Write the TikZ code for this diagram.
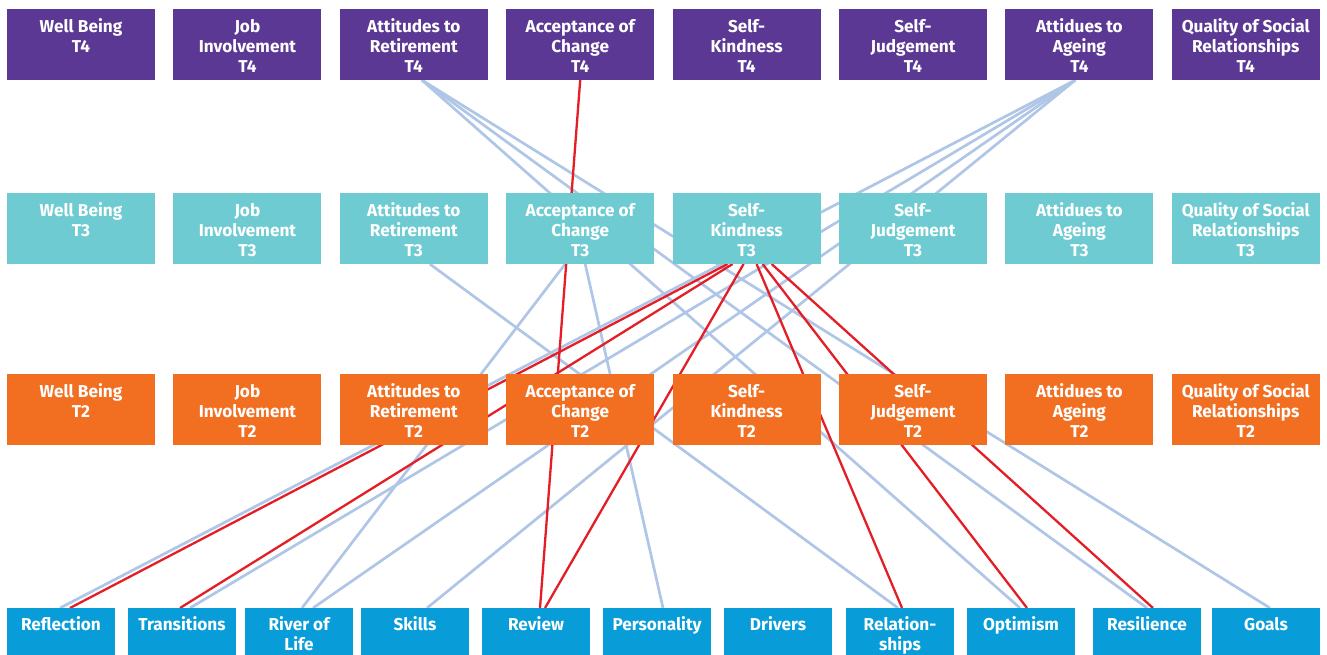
\documentclass[tikz,border=0pt]{standalone}
\usepackage{fontspec}
\setmainfont{Fira Sans}
\usetikzlibrary{positioning,backgrounds}
\definecolor{plum}{HTML}{5B3894}
\definecolor{aqua}{HTML}{6FCBD2}
\definecolor{tang}{HTML}{F26F22}
\definecolor{sky}{HTML}{089DD9}
\definecolor{haze}{HTML}{AFC6E6}
\definecolor{alarm}{HTML}{E31E26}
\newcommand{\tlbl}[1]{\parbox[c][52pt][t]{148pt}{\centering\strut#1}}
\newcommand{\blbl}[1]{\parbox[c][50pt][t]{108pt}{\centering\strut#1}}

\begin{document}
\begin{tikzpicture}[x=1pt,y=1pt,
  node distance=113pt and 18.4pt,
  outcome/.style={inner xsep=0pt,inner ysep=9.5pt,outer sep=0pt,text=white,
    font=\fontsize{17.2}{20}\selectfont\bfseries},
  tfour/.style={outcome,fill=plum},
  tthree/.style={outcome,fill=aqua},
  ttwo/.style={outcome,fill=tang},
  task/.style={inner xsep=0pt,inner ysep=8.7pt,outer sep=0pt,fill=sky,text=white,
    font=\fontsize{17.2}{20}\selectfont\bfseries},
  weak/.style={haze,line width=2.7pt},
  strong/.style={alarm,line width=2.3pt}]
\useasboundingbox (0,0) rectangle (1327,-654);
\clip (0,0) rectangle (1327,-654);
% outcomes at T4
\node[tfour,anchor=north west] (wb4) at (7,-9) {\tlbl{Well Being\\T4}};
\node[tfour,right=of wb4] (ji4) {\tlbl{Job\\Involvement\\T4}};
\node[tfour,right=of ji4] (ar4) {\tlbl{Attitudes to\\Retirement\\T4}};
\node[tfour,right=of ar4] (ac4) {\tlbl{Acceptance of\\Change\\T4}};
\node[tfour,right=of ac4] (sk4) {\tlbl{Self-\\Kindness\\T4}};
\node[tfour,right=of sk4] (sj4) {\tlbl{Self-\\Judgement\\T4}};
\node[tfour,right=of sj4] (ag4) {\tlbl{Attidues to\\Ageing\\T4}};
\node[tfour,right=of ag4] (qs4) {\tlbl{Quality of Social\\Relationships\\T4}};
% outcomes at T3
\node[tthree,below=of wb4] (wb3) {\tlbl{Well Being\\T3}};
\node[tthree,right=of wb3] (ji3) {\tlbl{Job\\Involvement\\T3}};
\node[tthree,right=of ji3] (ar3) {\tlbl{Attitudes to\\Retirement\\T3}};
\node[tthree,right=of ar3] (ac3) {\tlbl{Acceptance of\\Change\\T3}};
\node[tthree,right=of ac3] (sk3) {\tlbl{Self-\\Kindness\\T3}};
\node[tthree,right=of sk3] (sj3) {\tlbl{Self-\\Judgement\\T3}};
\node[tthree,right=of sj3] (ag3) {\tlbl{Attidues to\\Ageing\\T3}};
\node[tthree,right=of ag3] (qs3) {\tlbl{Quality of Social\\Relationships\\T3}};
% outcomes at T2
\node[ttwo,below=110pt of wb3] (wb2) {\tlbl{Well Being\\T2}};
\node[ttwo,right=of wb2] (ji2) {\tlbl{Job\\Involvement\\T2}};
\node[ttwo,right=of ji2] (ar2) {\tlbl{Attitudes to\\Retirement\\T2}};
\node[ttwo,right=of ar2] (ac2) {\tlbl{Acceptance of\\Change\\T2}};
\node[ttwo,right=of ac2] (sk2) {\tlbl{Self-\\Kindness\\T2}};
\node[ttwo,right=of sk2] (sj2) {\tlbl{Self-\\Judgement\\T2}};
\node[ttwo,right=of sj2] (ag2) {\tlbl{Attidues to\\Ageing\\T2}};
\node[ttwo,right=of ag2] (qs2) {\tlbl{Quality of Social\\Relationships\\T2}};
% exercises
\node[task,anchor=north west] (refl) at (7,-608) {\blbl{Reflection}};
\node[task,right=13pt of refl] (trans) {\blbl{Transitions}};
\node[task,right=9pt of trans] (river) {\blbl{River of\\Life}};
\node[task,right=8pt of river] (skills) {\blbl{Skills}};
\node[task,right=13pt of skills] (review) {\blbl{Review}};
\node[task,right=13pt of review] (person) {\blbl{Personality}};
\node[task,right=13pt of person] (drivers) {\blbl{Drivers}};
\node[task,right=14pt of drivers] (relat) {\blbl{Relation-\\ships}};
\node[task,right=13pt of relat] (optim) {\blbl{Optimism}};
\node[task,right=18pt of optim] (resil) {\blbl{Resilience}};
\node[task,right=11pt of resil] (goals) {\blbl{Goals}};

\begin{scope}[on background layer]
% links
\draw[weak] ([xshift=-4pt]ag4.south) -- ([xshift=-1pt]refl.north);
\draw[weak] ([xshift=-4pt]ag4.south) -- ([xshift=8pt]trans.north);
\draw[weak] ([xshift=-4pt]ag4.south) -- ([xshift=14pt]river.north);
\draw[weak] ([xshift=-4pt]ag4.south) -- ([xshift=12pt]skills.north);
\draw[weak] ([xshift=-15pt]ac3.south) -- ([xshift=3pt]river.north);
\draw[weak] ([xshift=5pt]ac3.south) -- ([xshift=6pt]person.north);
\draw[weak] ([xshift=16pt]ar3.south) -- ([xshift=-2pt]relat.north);
\draw[weak] ([xshift=8pt]ar4.south) -- ([xshift=-1pt]optim.north);
\draw[weak] ([xshift=8pt]ar4.south) -- (resil.north);
\draw[weak] ([xshift=8pt]ar4.south) -- ([xshift=4pt]goals.north);
% strong links
\draw[strong] (ac4.south) -- ([xshift=4pt]review.north);
\draw[strong] ([xshift=-19pt]sk3.south) -- ([xshift=9pt]refl.north);
\draw[strong] ([xshift=-14pt]sk3.south) -- ([xshift=-2pt]trans.north);
\draw[strong] ([xshift=-3pt]sk3.south) -- ([xshift=9pt]review.north);
\draw[strong] ([xshift=10pt]sk3.south) -- ([xshift=2pt]relat.north);
\draw[strong] ([xshift=16pt]sk3.south) -- ([xshift=6pt]optim.north);
\draw[strong] ([xshift=25pt]sk3.south) -- ([xshift=6pt]resil.north);
\end{scope}
\end{tikzpicture}
\end{document}
